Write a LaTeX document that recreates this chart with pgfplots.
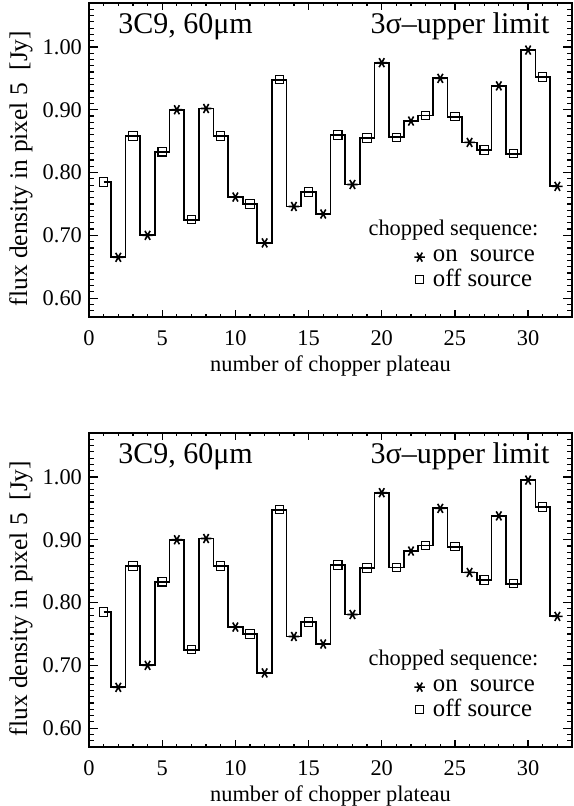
\documentclass[border=0pt]{standalone}
\usepackage{fontspec}
\setmainfont{Liberation Serif}
\usepackage{pgfplots}
\usepackage{pgfplotstable}
\pgfplotsset{compat=1.18}

% flux per chopper plateau (odd = off source, even = on source)
\pgfplotstableread{
x  y
1  0.785
2  0.665
3  0.858
4  0.700
5  0.833
6  0.900
7  0.725
8  0.902
9  0.858
10 0.761
11 0.750
12 0.688
13 0.948
14 0.746
15 0.769
16 0.734
17 0.860
18 0.781
19 0.855
20 0.975
21 0.856
22 0.882
23 0.891
24 0.950
25 0.889
26 0.848
27 0.836
28 0.938
29 0.830
30 0.995
31 0.952
32 0.778
}\fluxdata

\newcommand\ticksize{\fontsize{11.2}{13.4}\selectfont}
\newcommand\labsize{\fontsize{11.2}{13.4}\selectfont}
\newcommand\xlabsize{\fontsize{11.2}{13.4}\selectfont}
\newcommand\ylabsize{\fontsize{12.7}{15}\selectfont}
\newcommand\legsize{\fontsize{12.4}{14.8}\selectfont}
\newcommand\bigsize{\fontsize{15}{18}\selectfont}

\pgfplotsset{
    panel/.style={
        scale only axis, width=241.5pt, height=157pt,
        xmin=0, xmax=33, ymin=0.57, ymax=1.07,
        xtick={0,5,...,30}, minor xtick={0,1,...,33},
        ytick={0.6,0.7,0.8,0.9,1.0}, minor ytick={0.57,0.58,...,1.075},
        tick align=inside,
        xtick style={/pgfplots/major tick length=3.3pt, /pgfplots/minor tick length=1.7pt},
        ytick style={/pgfplots/major tick length=4.5pt, /pgfplots/minor tick length=2.5pt},
        every tick/.append style={black, line width=0.6pt},
        axis line style={black, line width=1pt},
        tick label style={font=\ticksize, /pgf/number format/assume math mode=true},
        yticklabel style={/pgf/number format/fixed, /pgf/number format/fixed zerofill,
                          /pgf/number format/precision=2},
        xticklabel shift=3.5pt,
        xlabel={number of chopper plateau},
        ylabel={flux density in pixel 5~~[Jy]},
        every axis x label/.style={at={(axis description cs:0.5,0)}, anchor=base,
                                   yshift=-27pt, font=\xlabsize},
        every axis y label/.style={at={(axis description cs:-0.128,0.473)}, anchor=base,
                                   rotate=90, font=\ylabsize},
        legend style={at={(0.673,0.223)}, anchor=north west, draw=none, fill=none,
                      inner sep=0pt, font=\legsize, row sep=0pt, column sep=2.5pt,
                      nodes={inner xsep=1.5pt, inner ysep=1.2pt}},
        legend cell align={left},
        legend image code/.code={\draw[#1] plot coordinates {(0pt,0pt)};},
    },
    stepline/.style={black, line width=0.9pt, const plot mark mid, forget plot},
    offmark/.style={only marks, mark=square, mark size=2.1pt,
                    mark options={solid, black, line width=0.55pt}},
    onmark/.style={only marks, mark=asterisk, mark size=2.6pt,
                   mark options={solid, black, line width=0.8pt, rotate=90}},
}

\begin{document}
\begin{tikzpicture}
\begin{axis}[panel, at={(44.5pt,-158.5pt)}, anchor=south west]
    \addplot[stepline] table {\fluxdata};
    \addplot[offmark, mark repeat=2, mark phase=1, forget plot] table {\fluxdata};
    \addplot[onmark, mark repeat=2, mark phase=2, forget plot] table {\fluxdata};
    \addlegendimage{onmark}
    \addlegendentry{on~~source}
    \addlegendimage{offmark}
    \addlegendentry{off source}
    \node[anchor=base west, font=\bigsize, inner sep=0pt] at (rel axis cs:0.06,0.904) {3C9, 60μm};
    \node[anchor=base east, font=\bigsize, inner sep=0pt] at (rel axis cs:0.954,0.904) {3σ–upper limit};
    \node[anchor=base west, font=\labsize, inner sep=0pt] at (rel axis cs:0.578,0.261) {chopped sequence:};
\end{axis}

\begin{axis}[panel, at={(44.5pt,-373.5pt)}, anchor=south west]
    \addplot[stepline] table {\fluxdata};
    \addplot[offmark, mark repeat=2, mark phase=1, forget plot] table {\fluxdata};
    \addplot[onmark, mark repeat=2, mark phase=2, forget plot] table {\fluxdata};
    \addlegendimage{onmark}
    \addlegendentry{on~~source}
    \addlegendimage{offmark}
    \addlegendentry{off source}
    \node[anchor=base west, font=\bigsize, inner sep=0pt] at (rel axis cs:0.06,0.904) {3C9, 60μm};
    \node[anchor=base east, font=\bigsize, inner sep=0pt] at (rel axis cs:0.954,0.904) {3σ–upper limit};
    \node[anchor=base west, font=\labsize, inner sep=0pt] at (rel axis cs:0.578,0.261) {chopped sequence:};
\end{axis}
\pgfresetboundingbox
\path[use as bounding box] (0,0) rectangle (286.5pt,-403pt);
\end{tikzpicture}
\end{document}
